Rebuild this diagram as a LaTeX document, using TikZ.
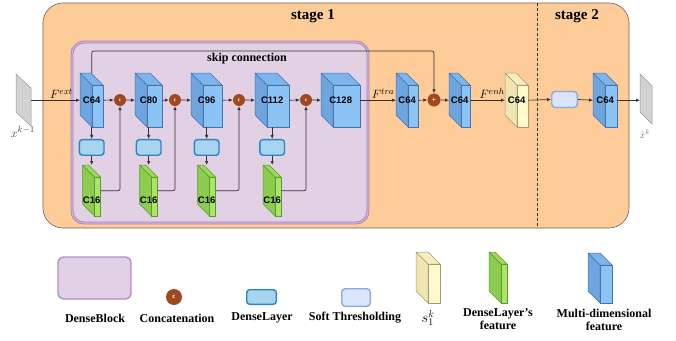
\documentclass[tikz,border=0pt]{standalone}
\usepackage{fontspec}
\setmainfont{Liberation Serif}
\newfontfamily\arialfont{Liberation Sans}
\usetikzlibrary{arrows.meta,positioning,calc}

\definecolor{stageorange}{RGB}{253,204,153}
\definecolor{stageedge}{RGB}{105,98,90}
\definecolor{blockfill}{RGB}{226,209,229}
\definecolor{blockedge}{RGB}{166,125,184}
\definecolor{bluefront}{RGB}{140,195,245}
\definecolor{blueside}{RGB}{110,165,222}
\definecolor{bluetop}{RGB}{125,180,235}
\definecolor{blueedge}{RGB}{70,115,170}
\definecolor{greenfront}{RGB}{170,230,100}
\definecolor{greenside}{RGB}{140,205,80}
\definecolor{greentop}{RGB}{155,218,90}
\definecolor{greenedge}{RGB}{95,150,50}
\definecolor{yellowfront}{RGB}{255,250,205}
\definecolor{yellowside}{RGB}{240,230,180}
\definecolor{yellowtop}{RGB}{246,238,192}
\definecolor{yellowedge}{RGB}{165,155,115}
\definecolor{planefill}{RGB}{210,210,210}
\definecolor{planeedge}{RGB}{150,150,150}
\definecolor{dlfill}{RGB}{168,212,240}
\definecolor{dlborder}{RGB}{40,135,195}
\definecolor{softfill}{RGB}{218,228,250}
\definecolor{softborder}{RGB}{140,170,220}
\definecolor{catbrown}{RGB}{160,72,32}
\definecolor{linegray}{RGB}{50,50,50}

\tikzstyle{flow} = [-{Latex[length=4pt,width=3.5pt]}, draw=linegray, line width=0.7pt]
\tikzstyle{link} = [draw=linegray, line width=0.7pt]
\tikzstyle{denselayer} = [rectangle, rounded corners=3pt, draw=dlborder, fill=dlfill, line width=1.4pt, minimum width=24.6pt, minimum height=15.6pt, inner sep=0]
\tikzstyle{softbox} = [rectangle, rounded corners=3.5pt, draw=softborder, fill=softfill, line width=1.4pt, minimum width=25.6pt, minimum height=16pt, inner sep=0]
\tikzstyle{catnode} = [circle, fill=catbrown, inner sep=0, minimum size=12pt, text=white, font=\bfseries\fontsize{5.5}{5.5}\selectfont]
\tikzstyle{fmlabel} = [font=\arialfont\bfseries\fontsize{9.5}{10}\selectfont]
\tikzstyle{legendtext} = [font=\bfseries\fontsize{12}{13}\selectfont, align=center]
\tikzstyle{flabel} = [font=\fontsize{12.5}{12.5}\selectfont, inner sep=1pt]

% feature map cuboid: name, left, top, front width, front height, colour, text
\newcommand{\featmap}[7]{%
  \filldraw[fill=#6side, draw=#6edge, line width=0.5pt, line join=round] (#2,#3) -- ++(12,12) -- ++(0,#5) -- ++(-12,-12) -- cycle;
  \filldraw[fill=#6top, draw=#6edge, line width=0.5pt, line join=round] (#2,#3) -- ++(#4,0) -- ++(12,12) -- ++(-#4,0) -- cycle;
  \filldraw[fill=#6front, draw=#6edge, line width=0.5pt] (#2+12,#3+12) rectangle ++(#4,#5);
  \node[fmlabel, inner sep=0, minimum width={(#4+12)*1pt}, minimum height={(#5+12)*1pt}, anchor=north west] (#1) at (#2,#3) {#7};
}

\begin{document}
\begin{tikzpicture}[x=1pt, y=-1pt]
    \useasboundingbox (0,0) rectangle (676,340);

    % Stages
    \draw[fill=stageorange, draw=stageedge, line width=0.6pt, rounded corners=20pt] (43,3) rectangle (629,228);
    \draw[linegray, densely dashed, line width=0.7pt] (537,3) -- (537,228);
    \node[font=\bfseries\fontsize{15}{15}\selectfont] (stage1) at (313,16) {stage 1};
    \node[font=\bfseries\fontsize{15}{15}\selectfont] (stage2) at (577,16) {stage 2};

    % DenseBlock
    \draw[fill=blockfill, draw=blockedge, double=blockfill!70!blockedge, double distance=1.2pt, line width=0.8pt, rounded corners=12pt] (72,42) rectangle (368,223);
    \node[font=\bfseries\fontsize{12}{12}\selectfont] (skiptext) at (247,59) {skip connection};

    % Input / output planes
    \filldraw[fill=planefill, draw=planeedge, line width=0.5pt] (16,74) -- (31,88) -- (31,126) -- (16,112) -- cycle;
    \node[inner sep=0, minimum width=15pt, minimum height=52pt, anchor=north west] (xin) at (16,74) {};
    \node[text=black!75, font=\fontsize{13}{13}\selectfont] (xinlabel) at (23,132) {$x^{k-1}$};
    \filldraw[fill=planefill, draw=planeedge, line width=0.5pt] (640,74) -- (652,86) -- (652,124) -- (640,112) -- cycle;
    \node[inner sep=0, minimum width=12pt, minimum height=50pt, anchor=north west] (xout) at (640,75) {};
    \node[text=black!55, font=\fontsize{10}{10}\selectfont] (xoutlabel) at (645,134) {$\hat{x}^{k}$};

    % Feature maps
    \featmap{c64a}{80}{73}{11}{42}{blue}{C64}
    \featmap{c80}{135}{73}{15}{42}{blue}{C80}
    \featmap{c96}{191}{73}{19}{42}{blue}{C96}
    \featmap{c112}{255}{73}{22}{42}{blue}{C112}
    \featmap{c128}{321}{73}{27}{42}{blue}{C128}
    \featmap{c64tra}{396}{73}{10}{42}{blue}{C64}
    \featmap{c64sum}{449}{73}{9}{42}{blue}{C64}
    \featmap{c64enh}{505}{73}{11}{42}{yellow}{C64}
    \featmap{c64out}{593}{73}{12}{42}{blue}{C64}

    % Concatenations and sum
    \node[catnode] (cat1) at (120,100) {c};
    \node[catnode] (cat2) at (175,100) {c};
    \node[catnode] (cat3) at (239,100) {c};
    \node[catnode] (cat4) at (306,100) {c};
    \node[catnode, minimum size=13pt, font=\bfseries\fontsize{8}{8}\selectfont] (plus) at (434,100) {+};

    % Dense layers
    \node[denselayer, below=11.5pt of c64a] (dl1) {};
    \node[denselayer, below=11.5pt of c80] (dl2) {};
    \node[denselayer, below=11.5pt of c96] (dl3) {};
    \node[denselayer, below=11.5pt of c112] (dl4) {};
    \featmap{c16a}{82.5}{165}{6}{39}{green}{}
    \featmap{c16b}{139.5}{165}{6}{39}{green}{}
    \featmap{c16c}{197.5}{165}{6}{39}{green}{}
    \featmap{c16d}{263}{165}{6}{39}{green}{}
    \node[fmlabel] at ([yshift=-10pt]c16a.center) {C16};
    \node[fmlabel] at ([yshift=-10pt]c16b.center) {C16};
    \node[fmlabel] at ([yshift=-10pt]c16c.center) {C16};
    \node[fmlabel] at ([yshift=-10pt]c16d.center) {C16};

    % Soft thresholding
    \node[softbox] (soft) at (564.5,99.5) {};

    % Main flow
    \draw[flow] (xin.east) -- node[flabel, above, pos=0.62] {$F^{ext}$} (c64a.west);
    \draw[flow] (c64a.east) -- (cat1.west);
    \draw[flow] (cat1.east) -- (c80.west);
    \draw[flow] (c80.east) -- (cat2.west);
    \draw[flow] (cat2.east) -- (c96.west);
    \draw[flow] (c96.east) -- (cat3.west);
    \draw[flow] (cat3.east) -- (c112.west);
    \draw[flow] (c112.east) -- (cat4.west);
    \draw[flow] (cat4.east) -- (c128.west);
    \draw[flow] (c128.east) -- node[flabel, above, pos=0.64] {$F^{tra}$} (c64tra.west);
    \draw[flow] (c64tra.east) -- (plus.west);
    \draw[flow] (plus.east) -- (c64sum.west);
    \draw[flow] (c64sum.east) -- node[flabel, above, pos=0.63] {$F^{enh}$} (c64enh.west);
    \draw[flow] (c64enh.east) -- (soft.west);
    \draw[flow] (soft.east) -- (c64out.west);
    \draw[flow] (c64out.east) -- (xout.west);

    % Skip connection
    \draw[flow, rounded corners=2pt] (c64a.north) -- ++(0,-22) -| (plus.north);

    % Dense layer branches
    \draw[flow] (c64a.south) -- (dl1.north);
    \draw[flow] (c80.south) -- (dl2.north);
    \draw[flow] (c96.south) -- (dl3.north);
    \draw[flow] (c112.south) -- (dl4.north);
    \draw[flow] (dl1.south) -- (c16a.north);
    \draw[flow] (dl2.south) -- (c16b.north);
    \draw[flow] (dl3.south) -- (c16c.north);
    \draw[flow] (dl4.south) -- (c16d.north);
    \draw[flow, rounded corners=2pt] (c16a.east) -| (cat1.south);
    \draw[flow, rounded corners=2pt] (c16b.east) -| (cat2.south);
    \draw[flow, rounded corners=2pt] (c16c.east) -| (cat3.south);
    \draw[flow, rounded corners=2pt] (c16d.east) -| (cat4.south);

    % Legend
    \draw[fill=blockfill, draw=blockedge!85, line width=1.4pt, rounded corners=6pt] (58,257) rectangle (131,299);
    \node[legendtext] (lgblock) at (95,318) {DenseBlock};
    \node[catnode, minimum size=16pt, font=\bfseries\fontsize{7}{7}\selectfont] (lgcat) at (174,297) {c};
    \node[legendtext] (lgcattext) at (177,318) {Concatenation};
    \node[denselayer, minimum width=29.6pt, minimum height=14.6pt] (lgdl) at (261.5,297) {};
    \node[legendtext] (lgdltext) at (262,318) {DenseLayer};
    \node[softbox, minimum width=28.6pt, minimum height=17.6pt] (lgsoft) at (356,297.5) {};
    \node[legendtext] (lgsofttext) at (355,318) {Soft Thresholding};
    \featmap{lgs}{416}{252}{12}{39}{yellow}{}
    \node[font=\fontsize{14}{14}\selectfont, inner sep=0] (lgstext) at (428,318) {$s_1^k$};
    \featmap{lggreen}{489}{252}{6}{39}{green}{}
    \node[legendtext] (lggreentext) at (498,319.5) {DenseLayer's\\feature};
    \featmap{lgblue}{588}{253}{12}{38}{blue}{}
    \node[legendtext] (lgbluetext) at (604,319.5) {Multi-dimensional\\feature};
\end{tikzpicture}
\end{document}
